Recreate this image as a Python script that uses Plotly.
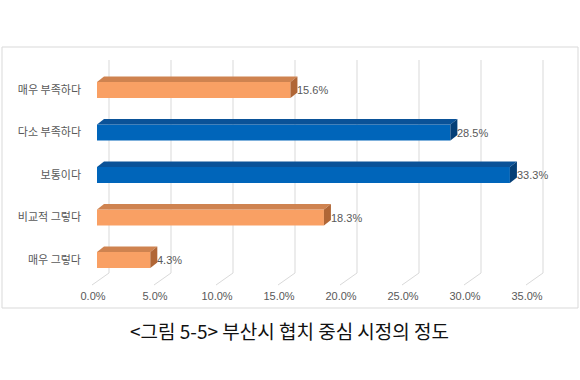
import plotly.graph_objects as go

# ---- data ----
categories = ["매우 부족하다", "다소 부족하다", "보통이다", "비교적 그렇다", "매우 그렇다"]
values = [15.6, 28.5, 33.3, 18.3, 4.3]
tick_values = [0, 5, 10, 15, 20, 25, 30, 35]
tick_labels = ["0.0%", "5.0%", "10.0%", "15.0%", "20.0%", "25.0%", "30.0%", "35.0%"]
caption = "&lt;그림 5-5&gt; 부산시 협치 중심 시정의 정도"

# ---- styles ----
ORANGE = ("#F9A064", "#CF8350", "#B06636")
BLUE = ("#0065BA", "#0A5298", "#053F77")
bar_styles = [ORANGE, BLUE, BLUE, ORANGE, ORANGE]
GRID = "#D9D9D9"
TXT = "#595959"
FONT = "Liberation Sans, Noto Sans CJK KR, sans-serif"

# pixel scale helpers (px per data unit)
PXX = 12.4
PXY = 42.5
W, H = 580, 380
L, R, T, B = 85, 5, 55, 94
x_range = [-(97 - L) / PXX, (W - R - 97) / PXX]
y_top = (T - 90) / PXY
y_bot = (H - B - 90) / PXY

bar_h = 16 / PXY
dx = 7 / PXX
dy = 5.5 / PXY

ypos = list(range(len(categories)))

fig = go.Figure()
fig.add_trace(go.Bar(
    x=values, y=ypos, orientation="h", width=bar_h,
    marker=dict(color=[s[0] for s in bar_styles], line=dict(width=0)),
    hoverinfo="skip",
))

shapes = []
# back-wall gridlines with diagonal floor lines
g_top = (60 - 90) / PXY
g_mid = (273 - 90) / PXY
g_bot = (285 - 90) / PXY
back = 12 / PXX
front = -5 / PXX
for v in tick_values:
    shapes.append(dict(type="path", xref="x", yref="y", layer="below",
                       path=f"M {v+back},{g_top} L {v+back},{g_mid} L {v+front},{g_bot}",
                       line=dict(color=GRID, width=1)))

# 3D faces of bars
for i, (v, st) in enumerate(zip(values, bar_styles)):
    yt = i - bar_h / 2
    yb = i + bar_h / 2
    shapes.append(dict(type="path", xref="x", yref="y", layer="above",
                       path=f"M 0,{yt} L {v},{yt} L {v+dx},{yt-dy} L {dx},{yt-dy} Z",
                       fillcolor=st[1], line=dict(width=0)))
    shapes.append(dict(type="path", xref="x", yref="y", layer="above",
                       path=f"M {v},{yt} L {v+dx},{yt-dy} L {v+dx},{yb-dy} L {v},{yb} Z",
                       fillcolor=st[2], line=dict(width=0)))

# outer border box
pw = W - L - R
ph = H - T - B
shapes.append(dict(type="rect", xref="paper", yref="paper",
                   x0=(2 - L) / pw, x1=(578 - L) / pw,
                   y0=(H - B - 308) / ph, y1=(H - B - 47) / ph,
                   line=dict(color=GRID, width=1)))

annotations = []
for i, v in enumerate(values):
    annotations.append(dict(x=v + dx, y=i, xref="x", yref="y", text=f"{v:.1f}%",
                            showarrow=False, xanchor="left", yanchor="middle", xshift=-2,
                            font=dict(family=FONT, size=11, color=TXT)))
annotations.append(dict(x=(289 - L) / pw, y=(H - B - 330) / ph, xref="paper", yref="paper",
                        text=caption, showarrow=False, xanchor="center", yanchor="middle",
                        font=dict(family="Noto Sans CJK KR", size=19, color="#111111")))

fig.update_layout(
    width=W, height=H,
    margin=dict(l=L, r=R, t=T, b=B, autoexpand=False),
    paper_bgcolor="white", plot_bgcolor="white",
    showlegend=False,
    shapes=shapes, annotations=annotations,
    xaxis=dict(range=x_range, tickvals=tick_values, ticktext=tick_labels,
               showgrid=False, zeroline=False, showline=False, ticks="",
               ticklabelshift=-4, ticklabelstandoff=2, automargin=False,
               tickfont=dict(family=FONT, size=11, color=TXT)),
    yaxis=dict(range=[y_bot, y_top], tickvals=ypos, ticktext=categories,
               showgrid=False, zeroline=False, showline=False, ticks="",
               ticklabelstandoff=3, automargin=False,
               tickfont=dict(family="Noto Sans CJK KR", size=11, color=TXT)),
)

fig.write_html("out.html", config={"displayModeBar": False},
               post_script="document.body.style.margin='0px';")
